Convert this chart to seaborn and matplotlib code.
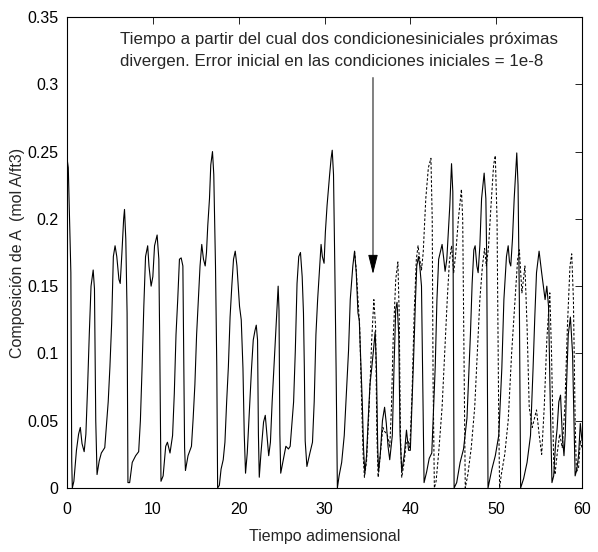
import matplotlib
matplotlib.use("Agg")
import matplotlib.pyplot as plt
import seaborn as sns
import pandas as pd

# ---- data ----
t_solid = [0.0, 0.15, 0.3, 0.45, 0.55, 0.62, 0.8, 1.1, 1.35, 1.55, 1.75, 2.0, 2.2, 2.4, 2.6, 2.8, 3.05, 3.2, 3.35, 3.5,
           3.75, 4.0, 4.4, 4.8, 5.0, 5.2, 5.4, 5.6, 5.8, 6.05, 6.2, 6.4, 6.6, 6.7, 6.85, 7.0, 7.1, 7.3, 7.6, 8.0,
           8.35, 8.55, 8.75, 8.95, 9.15, 9.4, 9.55, 9.8, 10.0, 10.2, 10.5, 10.7, 10.8, 10.95, 11.2, 11.5, 11.7, 12.0, 12.3, 12.5,
           12.7, 12.9, 13.1, 13.3, 13.5, 13.6, 13.7, 13.8, 14.1, 14.5, 14.7, 14.9, 15.1, 15.3, 15.5, 15.7, 15.9, 16.1, 16.25, 16.4,
           16.6, 16.75, 16.95, 17.1, 17.3, 17.45, 17.55, 17.75, 17.95, 18.2, 18.4, 18.6, 18.8, 19.0, 19.2, 19.4, 19.6, 19.8, 20.1, 20.3,
           20.5, 20.65, 20.8, 21.0, 21.3, 21.5, 21.7, 21.9, 22.05, 22.2, 22.3, 22.4, 22.6, 22.9, 23.1, 23.3, 23.5, 23.7, 23.9, 24.1,
           24.3, 24.5, 24.6, 24.7, 24.8, 24.9, 25.2, 25.5, 25.8, 26.0, 26.4, 26.6, 26.8, 27.0, 27.2, 27.4, 27.55, 27.65, 27.75, 27.95,
           28.3, 28.6, 28.8, 29.0, 29.2, 29.4, 29.6, 29.75, 29.95, 30.1, 30.3, 30.6, 30.77, 30.9, 31.05, 31.2, 31.35, 31.5, 31.7, 32.0,
           32.3, 32.5, 32.8, 33.0, 33.3, 33.5, 33.7, 33.9, 34.05, 34.2, 34.4, 34.55, 34.7, 34.9, 35.1, 35.3, 35.5, 35.7, 35.9, 36.05,
           36.2, 36.3, 36.5, 36.75, 37.0, 37.2, 37.4, 37.6, 37.9, 38.1, 38.3, 38.45, 38.65, 38.8, 39.0, 39.3, 39.55, 39.8, 40.0, 40.2,
           40.4, 40.6, 40.75, 40.95, 41.1, 41.3, 41.45, 41.6, 41.9, 42.2, 42.5, 42.9, 43.1, 43.3, 43.7, 43.9, 44.05, 44.25, 44.6, 44.8,
           44.95, 45.0, 45.1, 45.4, 45.8, 46.2, 46.6, 47.0, 47.2, 47.4, 47.55, 47.75, 47.9, 48.1, 48.3, 48.6, 48.8, 48.9, 49.05, 49.5,
           49.9, 50.3, 50.66, 50.9, 51.2, 51.4, 51.55, 51.7, 51.9, 52.1, 52.4, 52.55, 52.7, 52.85, 53.2, 53.6, 54.0, 54.3, 54.5, 54.7,
           55.0, 55.3, 55.7, 55.9, 56.1, 56.3, 56.5, 56.7, 56.9, 57.1, 57.3, 57.5, 57.7, 57.9, 58.05, 58.2, 58.4, 58.65, 58.9, 59.1,
           59.2, 59.4, 59.6, 59.8, 60.0]
c_solid = [0.245, 0.238, 0.20, 0.16, 0.02, 0.0, 0.005, 0.028, 0.04, 0.045, 0.033, 0.027, 0.04, 0.075, 0.115, 0.15, 0.162, 0.148, 0.05, 0.01,
           0.02, 0.026, 0.03, 0.064, 0.09, 0.122, 0.172, 0.18, 0.172, 0.155, 0.152, 0.175, 0.2, 0.207, 0.185, 0.13, 0.004, 0.004, 0.019, 0.024,
           0.027, 0.05, 0.09, 0.135, 0.172, 0.18, 0.165, 0.15, 0.157, 0.18, 0.188, 0.17, 0.11, 0.005, 0.009, 0.031, 0.034, 0.026, 0.039, 0.07,
           0.114, 0.14, 0.17, 0.171, 0.165, 0.1, 0.03, 0.013, 0.024, 0.031, 0.052, 0.077, 0.114, 0.14, 0.165, 0.181, 0.17, 0.165, 0.175, 0.195,
           0.215, 0.24, 0.25, 0.233, 0.165, 0.09, 0.0, 0.002, 0.014, 0.021, 0.034, 0.064, 0.09, 0.127, 0.15, 0.17, 0.176, 0.165, 0.135, 0.125,
           0.089, 0.04, 0.011, 0.026, 0.064, 0.089, 0.11, 0.117, 0.121, 0.11, 0.04, 0.008, 0.026, 0.049, 0.054, 0.039, 0.024, 0.034, 0.064, 0.089,
           0.114, 0.14, 0.15, 0.132, 0.04, 0.011, 0.021, 0.031, 0.029, 0.031, 0.064, 0.102, 0.152, 0.172, 0.175, 0.157, 0.13, 0.09, 0.035, 0.016,
           0.026, 0.034, 0.064, 0.114, 0.14, 0.16, 0.181, 0.172, 0.167, 0.19, 0.21, 0.233, 0.245, 0.251, 0.233, 0.165, 0.089, 0.0, 0.009, 0.019,
           0.039, 0.064, 0.102, 0.14, 0.165, 0.176, 0.16, 0.13, 0.125, 0.099, 0.064, 0.029, 0.011, 0.024, 0.052, 0.077, 0.089, 0.102, 0.116, 0.09,
           0.03, 0.012, 0.025, 0.05, 0.06, 0.048, 0.031, 0.021, 0.039, 0.09, 0.133, 0.138, 0.114, 0.04, 0.012, 0.025, 0.043, 0.028, 0.028, 0.064,
           0.1, 0.14, 0.165, 0.172, 0.165, 0.15, 0.08, 0.004, 0.012, 0.022, 0.026, 0.09, 0.14, 0.17, 0.181, 0.17, 0.161, 0.17, 0.21, 0.241,
           0.22, 0.15, 0.0, 0.004, 0.019, 0.029, 0.052, 0.114, 0.152, 0.177, 0.18, 0.165, 0.16, 0.18, 0.215, 0.234, 0.215, 0.17, 0.0, 0.014,
           0.024, 0.039, 0.089, 0.14, 0.172, 0.18, 0.168, 0.165, 0.185, 0.215, 0.249, 0.225, 0.14, 0.0, 0.007, 0.019, 0.039, 0.089, 0.127, 0.16,
           0.176, 0.16, 0.14, 0.15, 0.135, 0.064, 0.004, 0.009, 0.031, 0.044, 0.064, 0.069, 0.04, 0.024, 0.04, 0.077, 0.114, 0.127, 0.1, 0.04,
           0.009, 0.014, 0.024, 0.048, 0.035]

t_dashed = [33.5, 33.7, 33.9, 34.1, 34.3, 34.5, 34.65, 34.9, 35.2, 35.5, 35.75, 35.95, 36.1, 36.25, 36.5, 36.8, 37.0, 37.3, 37.6, 37.8,
            38.0, 38.3, 38.55, 38.7, 38.85, 39.0, 39.3, 39.5, 39.75, 39.95, 40.2, 40.45, 40.7, 40.9, 41.1, 41.3, 41.5, 41.8, 42.1, 42.4,
            42.55, 42.65, 42.8, 43.0, 43.3, 43.7, 44.0, 44.3, 44.55, 44.8, 45.05, 45.3, 45.6, 45.95, 46.1, 46.25, 46.4, 46.7, 47.1, 47.5,
            47.8, 48.1, 48.4, 48.65, 48.85, 49.1, 49.4, 49.7, 49.9, 50.1, 50.3, 50.4, 50.6, 51.0, 51.4, 51.8, 52.2, 52.5, 52.7, 53.0,
            53.35, 53.6, 53.85, 54.2, 54.7, 55.0, 55.3, 55.6, 55.9, 56.25, 56.45, 56.7, 56.85, 57.1, 57.4, 57.7, 58.0, 58.3, 58.6, 58.8,
            59.0, 59.2, 59.35, 59.6, 59.8, 60.0]
c_dashed = [0.176, 0.162, 0.14, 0.12, 0.07, 0.025, 0.008, 0.02, 0.06, 0.11, 0.14, 0.12, 0.04, 0.008, 0.025, 0.045, 0.042, 0.04, 0.03, 0.06,
            0.11, 0.155, 0.168, 0.13, 0.04, 0.008, 0.02, 0.033, 0.035, 0.03, 0.07, 0.13, 0.17, 0.18, 0.17, 0.162, 0.175, 0.215, 0.238, 0.245,
            0.2, 0.08, 0.0, 0.005, 0.026, 0.06, 0.1, 0.14, 0.168, 0.18, 0.16, 0.175, 0.2, 0.222, 0.2, 0.1, 0.0, 0.01, 0.03, 0.06,
            0.1, 0.14, 0.165, 0.178, 0.165, 0.178, 0.21, 0.24, 0.247, 0.2, 0.05, 0.0, 0.01, 0.025, 0.05, 0.1, 0.14, 0.17, 0.177, 0.145,
            0.165, 0.12, 0.06, 0.045, 0.058, 0.04, 0.025, 0.06, 0.11, 0.145, 0.1, 0.02, 0.01, 0.025, 0.04, 0.03, 0.06, 0.12, 0.165, 0.174,
            0.14, 0.05, 0.012, 0.015, 0.035, 0.03]

x_ticks = [0, 10, 20, 30, 40, 50, 60]
y_ticks = [0, 0.05, 0.1, 0.15, 0.2, 0.25, 0.3, 0.35]
y_ticklabels = ["0", "0.05", "0.1", "0.15", "0.2", "0.25", "0.3", "0.35"]

note_line1 = "Tiempo a partir del cual dos condicionesiniciales próximas"
note_line2 = "divergen. Error inicial en las condiciones iniciales = 1e-8"

# ---- plot ----
sns.set_style("white")
plt.rcParams["font.family"] = ["Liberation Sans", "DejaVu Sans"]

fig = plt.figure(figsize=(5.98, 5.52), dpi=100)
ax = fig.add_axes([67 / 598, 64 / 552, 515 / 598, 471 / 552])

df_s = pd.DataFrame({"t": t_solid, "c": c_solid})
df_d = pd.DataFrame({"t": t_dashed, "c": c_dashed})

sns.lineplot(data=df_d, x="t", y="c", ax=ax, color="black", lw=0.75,
             linestyle=(0, (2.5, 1.8)), estimator=None, sort=False)
sns.lineplot(data=df_s, x="t", y="c", ax=ax, color="black", lw=0.8,
             estimator=None, sort=False)

ax.set_xlim(0, 60)
ax.set_ylim(0, 0.35)
ax.set_xticks(x_ticks)
ax.set_xticklabels([str(v) for v in x_ticks])
ax.set_yticks(y_ticks)
ax.set_yticklabels(y_ticklabels)
ax.tick_params(direction="in", length=5, width=0.6, top=True, right=True,
               labelsize=11.5, colors="black")
ax.tick_params(axis="x", pad=10)
ax.tick_params(axis="y", pad=6)
for s in ax.spines.values():
    s.set_visible(True)
    s.set_color("black")
    s.set_linewidth(0.8)

ax.set_xlabel("Tiempo adimensional", fontsize=11.5, labelpad=9)
ax.set_ylabel("Composición de A  (mol A/ft3)", fontsize=11.5, labelpad=2)

ax.text(6.2, 0.3335, note_line1, fontsize=12.2, va="center", ha="left")
ax.text(6.2, 0.317, note_line2, fontsize=12.2, va="center", ha="left")
ax.annotate("", xy=(35.65, 0.159), xytext=(35.65, 0.305),
            arrowprops=dict(arrowstyle="-|>,head_length=0.8,head_width=0.2",
                            color="black", lw=0.7, mutation_scale=15,
                            shrinkA=0, shrinkB=0))

fig.savefig("out.png", dpi=100)
